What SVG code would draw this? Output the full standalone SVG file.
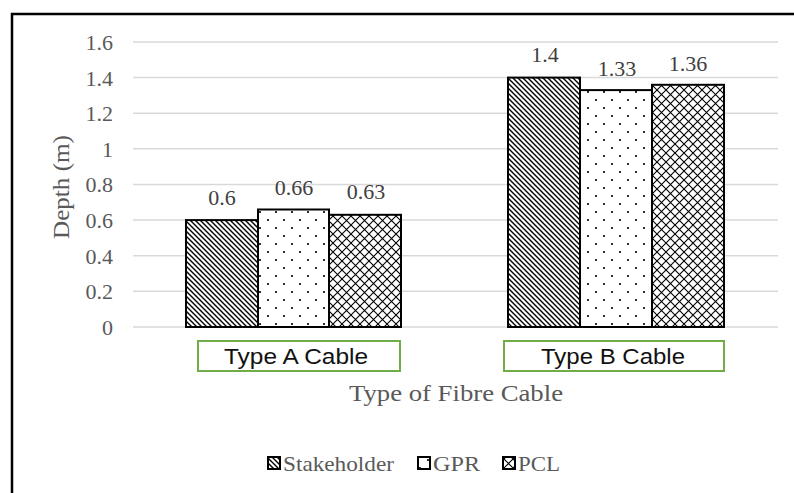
<svg xmlns="http://www.w3.org/2000/svg" width="794" height="493" viewBox="0 0 794 493">
  <style>
    .grid { stroke: #d9d9d9; stroke-width: 1.5; }
    .tick { font-family: "Liberation Serif", serif; font-size: 22px; fill: #595959; text-anchor: end; }
    .val { font-family: "Liberation Serif", serif; font-size: 22px; fill: #404040; text-anchor: middle; }
    .title { font-family: "Liberation Serif", serif; font-size: 24px; fill: #595959; text-anchor: middle; }
    .leg { font-family: "Liberation Serif", serif; font-size: 22px; fill: #595959; }
    .cat { font-family: "Liberation Sans", sans-serif; font-size: 22px; fill: #111; text-anchor: middle; }
    .catbox { fill: #fff; stroke: #70ad47; stroke-width: 2; }
    .bar { stroke: #000; stroke-width: 2; }
    .s { fill: url(#diag); }
    .g { fill: url(#dots); }
    .p { fill: url(#cross); }
  </style>
  <defs>
    <pattern id="diag" patternUnits="userSpaceOnUse" width="5" height="5">
      <rect width="5" height="5" fill="#fff"/>
      <path d="M-1,-1 L6,6 M-1,4 L1,6 M4,-1 L6,1" stroke="#000" stroke-width="1.4"/>
    </pattern>
    <pattern id="dots" patternUnits="userSpaceOnUse" width="16" height="16">
      <rect width="16" height="16" fill="#fff"/>
      <circle cx="4" cy="4" r="1.1" fill="#000"/>
      <circle cx="12" cy="12" r="1.1" fill="#000"/>
    </pattern>
    <pattern id="cross" patternUnits="userSpaceOnUse" width="9" height="9">
      <rect width="9" height="9" fill="#fff"/>
      <path d="M0,0 L9,9 M9,0 L0,9" stroke="#000" stroke-width="1.1"/>
    </pattern>
  </defs>

  <rect width="794" height="493" fill="#fff"/>
  <!-- outer frame: left and top edges -->
  <path d="M12,493 L12,14 L794,14" fill="none" stroke="#000" stroke-width="2.5"/>

  <!-- gridlines -->
  <g id="gridlines">
    <line class="grid" x1="133" y1="42" x2="778" y2="42"/>
    <line class="grid" x1="133" y1="77.6" x2="778" y2="77.6"/>
    <line class="grid" x1="133" y1="113.2" x2="778" y2="113.2"/>
    <line class="grid" x1="133" y1="148.8" x2="778" y2="148.8"/>
    <line class="grid" x1="133" y1="184.5" x2="778" y2="184.5"/>
    <line class="grid" x1="133" y1="220.1" x2="778" y2="220.1"/>
    <line class="grid" x1="133" y1="255.7" x2="778" y2="255.7"/>
    <line class="grid" x1="133" y1="291.3" x2="778" y2="291.3"/>
    <line class="grid" x1="133" y1="327" x2="778" y2="327"/>
  </g>

  <!-- y axis tick labels -->
  <g id="y-axis">
    <text class="tick" x="113" y="50">1.6</text>
    <text class="tick" x="113" y="86">1.4</text>
    <text class="tick" x="113" y="121">1.2</text>
    <text class="tick" x="113" y="157">1</text>
    <text class="tick" x="113" y="192">0.8</text>
    <text class="tick" x="113" y="228">0.6</text>
    <text class="tick" x="113" y="264">0.4</text>
    <text class="tick" x="113" y="299">0.2</text>
    <text class="tick" x="113" y="335">0</text>
    <text class="title" transform="translate(69,187) rotate(-90)" textLength="104" lengthAdjust="spacingAndGlyphs">Depth (m)</text>
  </g>

  <!-- Type A bars -->
  <g id="type-a">
    <rect class="bar s" x="186" y="220.1" width="72" height="106.9"/>
    <rect class="bar g" x="258" y="209.5" width="71" height="117.5"/>
    <rect class="bar p" x="329" y="214.8" width="72" height="112.2"/>
    <text class="val" x="222" y="205">0.6</text>
    <text class="val" x="294" y="195">0.66</text>
    <text class="val" x="366" y="199">0.63</text>
  </g>

  <!-- Type B bars -->
  <g id="type-b">
    <rect class="bar s" x="508" y="77.6" width="72" height="249.4"/>
    <rect class="bar g" x="580" y="90.1" width="72" height="236.9"/>
    <rect class="bar p" x="652" y="84.8" width="72" height="242.2"/>
    <text class="val" x="545" y="62">1.4</text>
    <text class="val" x="617" y="76">1.33</text>
    <text class="val" x="688" y="71">1.36</text>
  </g>

  <!-- category labels -->
  <g id="cat-a">
    <rect class="catbox" x="198" y="341" width="202" height="30"/>
    <text class="cat" x="296" y="364" textLength="144" lengthAdjust="spacingAndGlyphs">Type A Cable</text>
  </g>
  <g id="cat-b">
    <rect class="catbox" x="504" y="341" width="220" height="30"/>
    <text class="cat" x="613" y="364" textLength="144" lengthAdjust="spacingAndGlyphs">Type B Cable</text>
  </g>

  <text class="title" x="456" y="401" textLength="214" lengthAdjust="spacingAndGlyphs">Type of Fibre Cable</text>

  <!-- legend -->
  <g id="legend">
    <rect class="bar s" x="268" y="457" width="12" height="12"/>
    <text class="leg" x="283" y="471" textLength="111" lengthAdjust="spacingAndGlyphs">Stakeholder</text>
    <rect class="bar g" x="418" y="457" width="12" height="12"/>
    <text class="leg" x="433" y="471" textLength="47" lengthAdjust="spacingAndGlyphs">GPR</text>
    <rect class="bar p" x="503" y="457" width="12" height="12"/>
    <text class="leg" x="518" y="471" textLength="42" lengthAdjust="spacingAndGlyphs">PCL</text>
  </g>
</svg>
